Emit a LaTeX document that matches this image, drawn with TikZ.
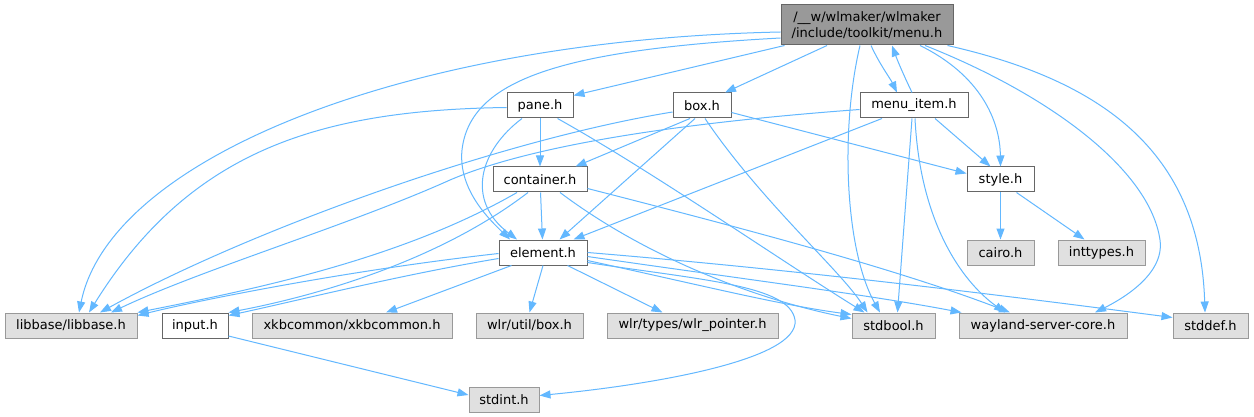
\documentclass[tikz,border=0pt]{standalone}
\usepackage{fontspec}
\setmainfont{DejaVu Sans}
\usetikzlibrary{arrows.meta}
\definecolor{edgec}{HTML}{63B8FF}
\definecolor{bordw}{HTML}{666666}
\definecolor{bordg}{HTML}{999999}
\definecolor{extfill}{HTML}{E0E0E0}
\definecolor{mainfill}{HTML}{999999}
\tikzset{
  edge/.style={draw=edgec, line width=1pt, -{Triangle[length=11pt,width=8pt]}},
  filebox/.style={draw=bordw, fill=white, line width=1pt, inner sep=0pt, minimum height=25pt, font=\fontsize{13}{16}\selectfont},
  extbox/.style={draw=bordg, fill=extfill, line width=1pt, inner sep=0pt, minimum height=25pt, font=\fontsize{13}{16}\selectfont},
  mainbox/.style={draw=bordw, fill=mainfill, line width=1pt, inner sep=0pt, minimum height=40pt, minimum width=172pt, align=center, font=\fontsize{13}{16}\selectfont},
}
\begin{document}
\begin{tikzpicture}[x=1pt,y=-1pt]
\useasboundingbox[fill=white] (0,0) rectangle (1254,417);
% nodes
\node[mainbox] (menu) at (867,25) {/\_\_w/wlmaker/wlmaker\\/include/toolkit/menu.h};
\node[filebox, minimum width=66pt] (pane) at (540,105.5) {pane.h};
\node[filebox, minimum width=58pt] (box) at (702,105.5) {box.h};
\node[filebox, minimum width=108pt] (menuitem) at (914,105.5) {menu\_item.h};
\node[filebox, minimum width=67pt] (style) at (1000.5,179.5) {style.h};
\node[filebox, minimum width=94pt] (container) at (540,179.5) {container.h};
\node[filebox, minimum width=88pt] (element) at (543,252.5) {element.h};
\node[extbox, minimum width=67pt] (cairo) at (1000.5,252.5) {cairo.h};
\node[extbox, minimum width=87pt] (inttypes) at (1101.5,252.5) {inttypes.h};
\node[extbox, minimum width=132pt] (libbase) at (71,325.5) {libbase/libbase.h};
\node[filebox, minimum width=66pt] (input) at (195,325.5) {input.h};
\node[extbox, minimum width=200pt] (xkb) at (352,325.5) {xkbcommon/xkbcommon.h};
\node[extbox, minimum width=107pt] (wlrbox) at (529.5,325.5) {wlr/util/box.h};
\node[extbox, minimum width=171pt] (wlrptr) at (692.5,325.5) {wlr/types/wlr\_pointer.h};
\node[extbox, minimum width=83pt] (stdbool) at (893.5,325.5) {stdbool.h};
\node[extbox, minimum width=168pt] (wayland) at (1043,325.5) {wayland-server-core.h};
\node[extbox, minimum width=75pt] (stddef) at (1210.5,325.5) {stddef.h};
\node[extbox, minimum width=70pt] (stdint) at (504,399.5) {stdint.h};
% menu.h
\draw[edge] ([yshift=-7pt]menu.west) .. controls (400,40) and (110,160) .. ([xshift=8pt]libbase.north);
\draw[edge] ([yshift=-13pt]menu.west) .. controls (560,50) and (470,80) .. (462,150) .. controls (458,190) and (490,220) .. ([xshift=-33pt]element.north);
\draw[edge] ([xshift=4pt]menu.south west) -- ([yshift=-3pt]pane.north east);
\draw[edge] ([xshift=-40pt]menu.south) -- ([xshift=23pt]box.north);
\draw[edge] ([xshift=4pt]menu.south) .. controls (880,65) and (890,78) .. ([xshift=-17pt]menuitem.north);
\draw[edge] ([xshift=-2pt]menuitem.north) .. controls (905,78) and (898,62) .. ([xshift=25pt]menu.south);
\draw[edge] ([xshift=-7pt]menu.south) .. controls (840,130) and (845,250) .. ([xshift=-13.5pt]stdbool.north);
\draw[edge] ([xshift=53pt]menu.south) .. controls (980,75) and (1000,120) .. (style.north);
\draw[edge] ([xshift=58pt]menu.south) .. controls (1050,95) and (1150,170) .. (1160,240) .. controls (1165,275) and (1120,300) .. ([xshift=52pt]wayland.north);
\draw[edge] ([xshift=-6pt]menu.south east) .. controls (1100,80) and (1200,150) .. ([xshift=-5.5pt]stddef.north);
% pane.h
\draw[edge] ([yshift=-2pt]pane.west) .. controls (320,110) and (190,150) .. ([xshift=18pt]libbase.north);
\draw[edge] (pane) -- (container);
\draw[edge] ([xshift=-18pt]pane.south) .. controls (480,150) and (465,200) .. ([xshift=-26pt]element.north);
\draw[edge] ([xshift=-16pt]pane.south east) .. controls (650,170) and (780,260) .. ([xshift=-29pt]stdbool.north);
% box.h
\draw[edge] ([yshift=-6.5pt]box.west) .. controls (500,140) and (250,230) .. ([xshift=29pt]libbase.north);
\draw[edge] ([xshift=-12pt]box.south) -- ([xshift=-12pt]container.north east);
\draw[edge] ([xshift=-7pt]box.south) -- ([xshift=-28pt]element.north east);
\draw[edge] ([xshift=3pt]box.south) .. controls (760,200) and (840,270) .. ([xshift=-26pt]stdbool.north);
\draw[edge] ([yshift=-7pt]box.east) -- ([yshift=6pt]style.west);
% menu_item.h
\draw[edge] ([yshift=-4pt]menuitem.west) .. controls (650,125) and (520,150) .. (450,180) .. controls (350,225) and (200,270) .. ([xshift=40pt]libbase.north);
\draw[edge] ([xshift=-32pt]menuitem.south) -- ([xshift=-14pt]element.north east);
\draw[edge] ([xshift=21pt]menuitem.south) -- ([xshift=-10pt]style.north);
\draw[edge] ([xshift=-2pt]menuitem.south) -- ([xshift=4pt]stdbool.north);
\draw[edge] ([xshift=1pt]menuitem.south) .. controls (920,220) and (960,280) .. ([xshift=-38pt]wayland.north);
% style.h
\draw[edge] (style) -- (cairo);
\draw[edge] ([xshift=16pt]style.south) -- ([xshift=-17pt]inttypes.north);
% container.h
\draw[edge] (container) -- (element);
\draw[edge] ([xshift=-23pt]container.south) .. controls (400,260) and (250,290) .. (libbase.north east);
\draw[edge] ([xshift=-12pt]container.south) .. controls (440,260) and (320,295) .. (input.north east);
\draw[edge] ([xshift=20pt]container.south) .. controls (650,260) and (760,300) .. ([yshift=7pt]stdbool.west);
\draw[edge] ([yshift=-9pt]container.east) .. controls (750,230) and (900,270) .. ([xshift=-33pt]wayland.north);
% element.h
\draw[edge] ([yshift=-1pt]element.west) .. controls (350,270) and (200,300) .. ([yshift=-3pt]libbase.north east);
\draw[edge] ([yshift=-6pt]element.west) .. controls (400,275) and (300,300) .. ([yshift=-3pt]input.north east);
\draw[edge] ([xshift=13pt]element.south west) -- ([xshift=34pt]xkb.north);
\draw[edge] (element.south) -- (wlrbox.north);
\draw[edge] ([xshift=-20pt]element.south east) -- ([xshift=-30pt]wlrptr.north);
\draw[edge] ([yshift=-8pt]element.east) .. controls (700,285) and (780,305) .. ([yshift=11pt]stdbool.west);
\draw[edge] ([yshift=-4pt]element.east) .. controls (750,280) and (870,295) .. ([xshift=3pt]wayland.north west);
\draw[edge] (element.east) .. controls (800,270) and (1000,295) .. ([yshift=8pt]stddef.west);
\draw[edge] ([yshift=-10pt]element.east) .. controls (700,280) and (790,285) .. (795,320) .. controls (800,360) and (650,385) .. ([yshift=4pt]stdint.east);
% input.h
\draw[edge] ([yshift=-10.5pt]input.east) -- ([yshift=4.5pt]stdint.west);
\end{tikzpicture}
\end{document}
